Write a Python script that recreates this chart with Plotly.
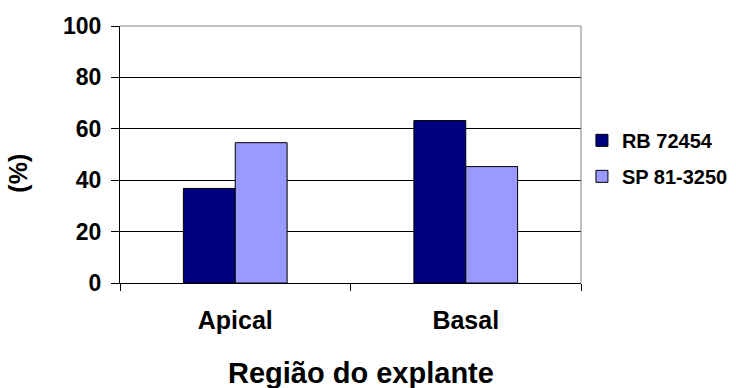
import plotly.graph_objects as go

categories = ["Apical", "Basal"]
series_names = ["RB 72454", "SP 81-3250"]
rb_values = [36.8, 63.2]
sp_values = [54.6, 45.3]
series_colors = ["#000080", "#9999FF"]
y_ticks = [0, 20, 40, 60, 80, 100]

FONT = "Liberation Sans, Arial, sans-serif"

fig = go.Figure()
for name, vals, col in zip(series_names, [rb_values, sp_values], series_colors):
    fig.add_trace(go.Bar(
        x=categories, y=vals, name=name, legendgroup=name,
        marker=dict(color=col, line=dict(color="black", width=1)),
    ))

fig.update_layout(
    width=736, height=388,
    margin=dict(l=120, r=155, t=26, b=105, autoexpand=False),
    paper_bgcolor="white", plot_bgcolor="white",
    barmode="group", bargap=0.55, bargroupgap=0,
    font=dict(family=FONT, color="black", weight="bold"),
    showlegend=True,
    legend=dict(
        x=1.002, y=0.485, xanchor="left", yanchor="middle",
        font=dict(family=FONT, size=20, color="black", weight="bold"),
        tracegroupgap=7, traceorder="grouped",
        bgcolor="rgba(0,0,0,0)",
    ),
    xaxis=dict(
        type="category", showline=True, linecolor="black", linewidth=1,
        ticks="outside", tickson="boundaries", ticklen=7, tickcolor="black",
        tickfont=dict(family=FONT, size=25, color="black", weight="bold"),
        ticklabelstandoff=15, showgrid=False,
    ),
    yaxis=dict(
        range=[0, 100], tickvals=y_ticks, showline=True, linecolor="black", linewidth=1,
        ticks="outside", ticklen=8, tickcolor="black",
        tickfont=dict(family=FONT, size=23, color="black", weight="bold"),
        showgrid=True, gridcolor="black", gridwidth=1, zeroline=False,
        ticklabelstandoff=5,
    ),
    shapes=[dict(type="path", xref="paper", yref="paper",
                 path="M 0,1 L 1,1 L 1,0", line=dict(color="#808080", width=1),
                 layer="above")],
    annotations=[
        dict(text="Região do explante", xref="paper", yref="paper",
             x=0.5217, y=-0.35, xanchor="center", yanchor="middle", showarrow=False,
             font=dict(family=FONT, size=29, color="black", weight="bold")),
        dict(text="(%)", xref="paper", yref="paper", textangle=-90,
             x=-0.222, y=0.428, xanchor="center", yanchor="middle", showarrow=False,
             font=dict(family=FONT, size=25, color="black", weight="bold")),
    ],
)

fig.write_html("out.html")
